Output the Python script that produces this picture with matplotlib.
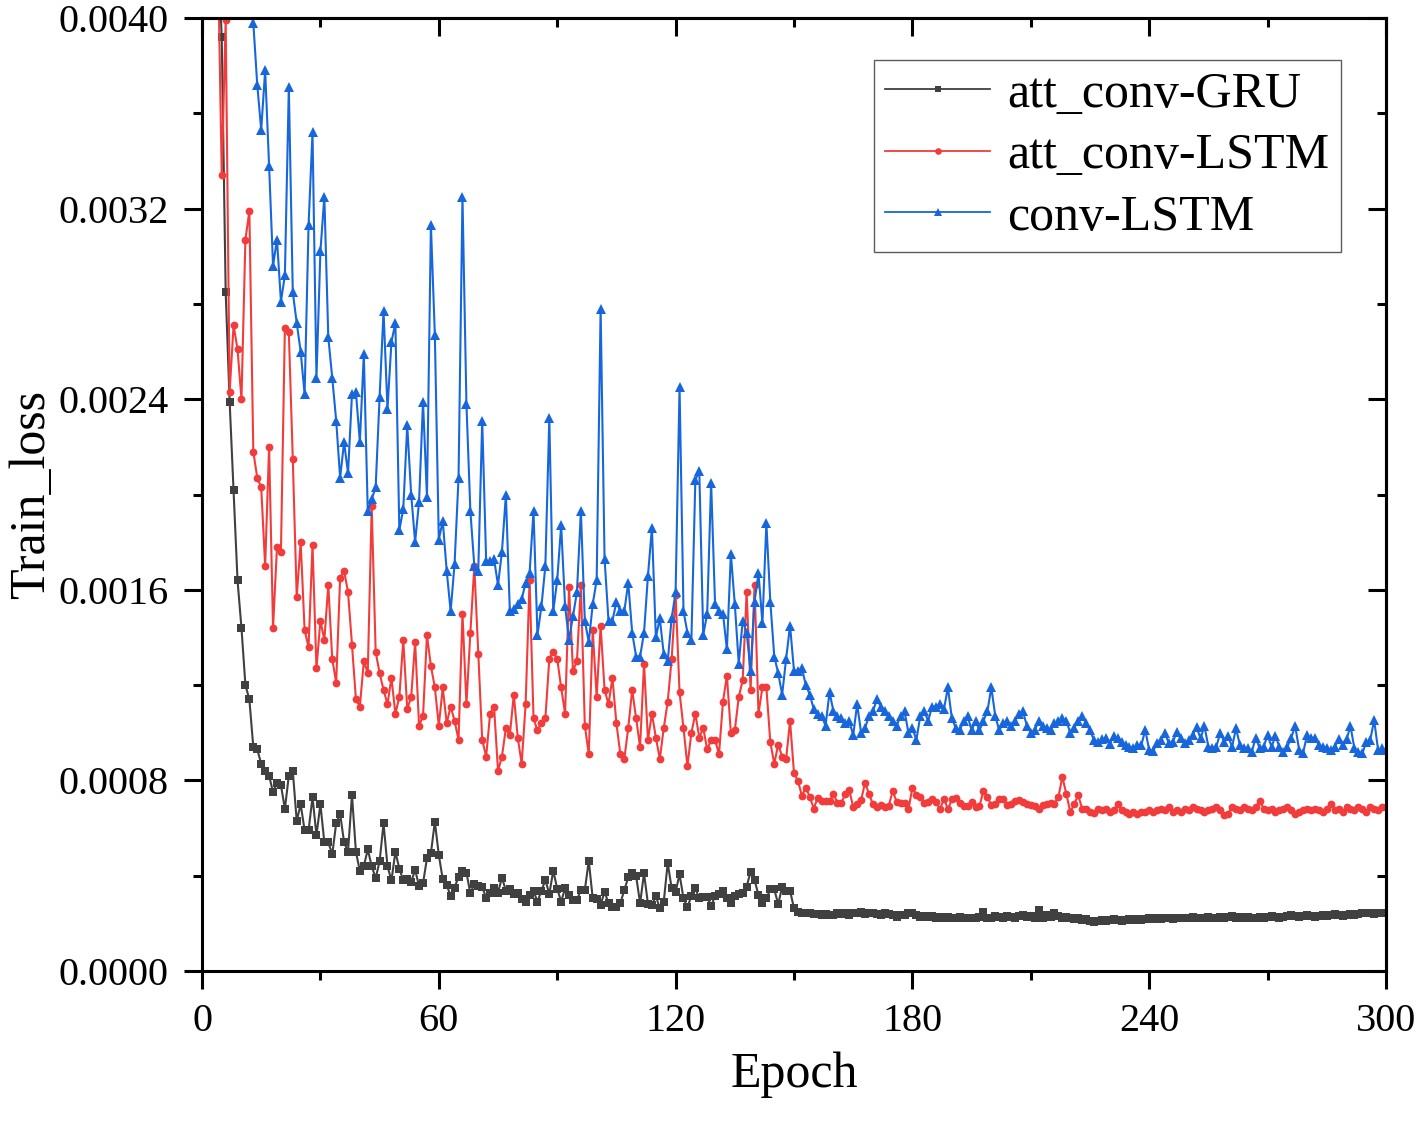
import matplotlib
matplotlib.use("Agg")
import matplotlib.pyplot as plt
from matplotlib.ticker import MultipleLocator, FormatStrFormatter
import numpy as np

# ---- data (values in units of 1e-4) ----
epochs = list(range(1, 301))

gru_e4 = [
    80, 62, 50, 43, 39.2, 28.5, 23.9, 20.2, 16.4, 14.4,
    12.0, 11.4, 9.4, 9.3, 8.7, 8.4, 8.2, 7.5, 7.9, 7.8,
    6.8, 8.2, 8.4, 6.3, 7.0, 5.9, 5.9, 7.3, 5.7, 7.0,
    5.4, 5.4, 4.9, 6.2, 6.6, 5.4, 5.0, 7.4, 5.0, 4.2,
    4.4, 5.1, 4.4, 3.9, 4.6, 6.2, 4.4, 3.8, 5.0, 4.3,
    3.80, 3.85, 3.75, 4.24, 3.57, 3.68, 4.73, 4.94, 6.27, 4.87,
    3.85, 3.61, 3.15, 3.50, 3.96, 4.21, 4.13, 3.26, 3.65, 3.57,
    3.54, 3.05, 3.29, 3.47, 3.29, 3.92, 3.37, 3.43, 3.22, 3.29,
    3.01, 2.91, 3.19, 3.36, 2.91, 3.36, 3.82, 3.23, 4.21, 3.46,
    2.91, 3.47, 3.19, 2.98, 2.98, 3.40, 3.40, 4.63, 3.05, 3.01,
    2.77, 3.33, 2.84, 2.70, 2.70, 2.84, 3.40, 3.93, 4.10, 3.99,
    2.84, 4.10, 2.81, 2.77, 3.15, 2.63, 2.91, 4.54, 3.47, 3.33,
    4.06, 3.05, 2.67, 3.15, 3.47, 3.05, 3.09, 3.12, 2.73, 3.15,
    3.22, 3.36, 3.05, 2.84, 3.15, 3.23, 3.29, 3.54, 4.17, 3.82,
    3.19, 2.84, 3.05, 3.43, 3.43, 2.80, 3.54, 3.36, 3.37, 2.63,
    2.49, 2.45, 2.42, 2.42, 2.38, 2.38, 2.35, 2.38, 2.35, 2.35,
    2.42, 2.38, 2.42, 2.35, 2.45, 2.42, 2.49, 2.38, 2.42, 2.45,
    2.38, 2.35, 2.42, 2.38, 2.35, 2.28, 2.35, 2.35, 2.42, 2.45,
    2.35, 2.28, 2.31, 2.28, 2.31, 2.24, 2.28, 2.21, 2.28, 2.24,
    2.21, 2.28, 2.21, 2.24, 2.21, 2.24, 2.28, 2.49, 2.24, 2.21,
    2.31, 2.28, 2.24, 2.31, 2.28, 2.24, 2.31, 2.35, 2.28, 2.31,
    2.24, 2.56, 2.24, 2.35, 2.28, 2.42, 2.31, 2.21, 2.28, 2.24,
    2.17, 2.21, 2.14, 2.17, 2.10, 2.07, 2.10, 2.14, 2.10, 2.14,
    2.17, 2.14, 2.10, 2.14, 2.17, 2.14, 2.17, 2.14, 2.17, 2.21,
    2.17, 2.21, 2.17, 2.24, 2.21, 2.17, 2.21, 2.24, 2.21, 2.24,
    2.28, 2.24, 2.21, 2.24, 2.28, 2.24, 2.21, 2.28, 2.24, 2.28,
    2.31, 2.24, 2.28, 2.24, 2.28, 2.21, 2.24, 2.28, 2.24, 2.28,
    2.31, 2.28, 2.24, 2.28, 2.31, 2.35, 2.31, 2.28, 2.31, 2.35,
    2.31, 2.28, 2.31, 2.35, 2.31, 2.35, 2.38, 2.35, 2.31, 2.35,
    2.38, 2.35, 2.38, 2.42, 2.45, 2.42, 2.38, 2.42, 2.45, 2.42,
]

att_lstm_e4 = [
    75, 60, 50, 43, 33.4, 39.9, 24.3, 27.1, 26.1, 24.0,
    30.7, 31.9, 21.8, 20.7, 20.3, 17.0, 22.0, 14.4, 17.8, 17.6,
    27.0, 26.8, 21.5, 15.7, 18.0, 14.3, 13.6, 17.9, 12.7, 14.7,
    13.9, 16.2, 13.1, 12.1, 16.5, 16.8, 15.9, 13.7, 11.4, 11.1,
    13.0, 12.5, 19.5, 13.4, 12.5, 11.8, 11.2, 12.3, 10.8, 11.5,
    13.9, 11.0, 11.5, 13.8, 10.3, 10.7, 14.1, 12.8, 11.9, 10.3,
    11.9, 10.4, 11.1, 10.5, 9.7, 15.0, 11.2, 14.2, 17.0, 13.3,
    9.7, 9.0, 10.8, 11.1, 8.4, 9.0, 10.2, 9.9, 11.6, 9.8,
    8.7, 11.2, 16.4, 10.6, 10.1, 10.4, 10.6, 13.1, 13.4, 13.1,
    11.9, 10.8, 16.1, 12.6, 13.0, 16.2, 10.3, 9.1, 14.3, 11.5,
    14.5, 11.8, 11.2, 12.3, 10.4, 9.1, 8.9, 10.2, 11.8, 10.6,
    9.4, 12.9, 9.7, 10.8, 9.8, 8.9, 10.2, 11.3, 13.1, 15.8,
    11.7, 10.2, 8.6, 10.0, 10.8, 9.8, 10.2, 9.3, 9.7, 9.7,
    9.1, 11.3, 12.4, 10.0, 10.1, 11.5, 12.2, 15.9, 11.8, 16.2,
    10.8, 11.9, 11.9, 9.6, 8.7, 9.5, 9.0, 8.9, 10.5, 8.3,
    7.98, 7.36, 7.69, 7.31, 6.82, 7.27, 7.15, 7.15, 7.13, 7.43,
    7.06, 7.06, 7.43, 7.59, 6.89, 7.00, 7.17, 7.90, 7.43, 7.00,
    6.89, 6.96, 6.89, 6.93, 7.55, 7.11, 7.06, 7.06, 6.78, 7.70,
    7.38, 7.31, 7.06, 7.11, 7.24, 7.11, 6.78, 7.24, 6.78, 7.20,
    7.27, 7.06, 6.92, 6.92, 7.11, 6.89, 6.92, 7.57, 7.31, 6.96,
    7.00, 7.24, 7.24, 6.96, 7.03, 7.15, 7.17, 7.11, 7.00, 6.96,
    6.92, 6.82, 6.96, 7.03, 7.06, 7.03, 7.31, 8.15, 7.43, 6.68,
    7.00, 7.38, 6.82, 6.78, 6.68, 6.64, 6.78, 6.75, 6.82, 6.68,
    6.75, 7.00, 6.75, 6.68, 6.61, 6.68, 6.61, 6.68, 6.68, 6.75,
    6.68, 6.75, 6.82, 6.75, 6.89, 6.68, 6.75, 6.68, 6.82, 6.75,
    6.89, 6.82, 6.75, 6.68, 6.75, 6.82, 6.89, 6.75, 6.55, 6.61,
    6.89, 6.82, 6.75, 6.89, 6.82, 6.75, 6.89, 7.15, 6.82, 6.75,
    6.82, 6.68, 6.75, 6.82, 6.89, 6.75, 6.61, 6.68, 6.75, 6.82,
    6.75, 6.82, 6.75, 6.68, 6.82, 7.03, 6.75, 6.82, 6.68, 6.89,
    6.82, 6.75, 6.89, 6.82, 6.68, 6.89, 6.82, 6.75, 6.89, 6.89,
]

conv_lstm_e4 = [
    62, 57, 53, 50, 48, 46.5, 45, 44, 43, 42,
    41.5, 40.8, 39.8, 37.2, 35.3, 37.8, 33.8, 29.6, 30.7, 28.1,
    29.2, 37.1, 28.5, 27.2, 26.0, 24.2, 31.3, 35.2, 24.9, 30.2,
    32.5, 26.6, 24.9, 23.1, 20.7, 22.2, 20.9, 24.2, 24.3, 22.2,
    25.9, 19.3, 19.8, 20.3, 24.1, 27.7, 23.6, 26.4, 27.2, 18.5,
    19.4, 22.9, 20.0, 18.0, 19.7, 23.9, 19.9, 31.3, 26.7, 18.1,
    18.9, 16.8, 15.1, 17.1, 20.7, 32.5, 23.8, 19.3, 17.0, 16.8,
    23.1, 17.2, 17.2, 17.3, 16.2, 17.6, 20.0, 15.1, 15.2, 15.4,
    15.6, 16.3, 16.7, 19.3, 14.1, 15.3, 17.0, 23.2, 15.1, 16.4,
    18.7, 15.3, 13.9, 14.9, 15.9, 19.3, 14.7, 13.8, 15.4, 16.4,
    27.8, 17.3, 14.7, 14.7, 15.5, 15.1, 15.1, 16.3, 14.2, 13.2,
    13.2, 14.2, 16.6, 18.6, 14.0, 14.8, 13.3, 13.0, 14.8, 15.9,
    24.5, 15.1, 14.2, 13.9, 20.6, 21.0, 14.1, 15.0, 20.5, 15.4,
    15.1, 15.0, 13.5, 17.5, 15.4, 12.9, 14.7, 14.2, 12.6, 15.5,
    16.7, 14.6, 18.8, 15.5, 13.2, 12.5, 11.6, 13.1, 14.5, 12.6,
    12.6, 12.7, 12.0, 11.6, 11.0, 10.8, 10.7, 10.3, 11.7, 10.9,
    10.7, 10.6, 10.4, 10.5, 9.9, 11.2, 10.0, 10.2, 10.7, 10.9,
    11.4, 11.1, 10.9, 10.7, 10.5, 10.3, 10.7, 10.9, 10.0, 10.2,
    9.7, 10.7, 10.9, 10.5, 11.1, 11.1, 11.2, 11.0, 11.9, 10.6,
    10.2, 10.1, 10.5, 10.7, 10.1, 10.5, 10.1, 10.5, 10.9, 11.9,
    10.7, 10.1, 10.4, 10.5, 10.3, 10.5, 10.8, 10.9, 10.3, 10.0,
    10.1, 10.5, 10.3, 10.2, 10.1, 10.4, 10.5, 10.6, 10.5, 10.0,
    10.2, 10.5, 10.7, 10.4, 10.1, 9.7, 9.6, 9.72, 9.76, 9.52,
    9.86, 9.76, 9.62, 9.48, 9.41, 9.34, 9.48, 9.48, 10.11, 9.27,
    9.24, 9.55, 9.69, 9.97, 9.55, 9.62, 10.04, 9.76, 9.58, 9.69,
    9.90, 10.25, 9.76, 10.28, 9.41, 9.38, 9.41, 10.00, 9.62, 9.86,
    9.41, 10.18, 9.48, 9.38, 9.34, 9.20, 9.80, 9.34, 9.41, 9.90,
    9.41, 9.86, 9.41, 9.20, 9.41, 9.80, 10.28, 9.27, 9.16, 9.90,
    9.76, 9.80, 9.48, 9.41, 9.38, 9.27, 9.41, 9.72, 9.48, 9.72,
    10.28, 9.34, 9.20, 9.13, 9.62, 9.69, 10.53, 9.27, 9.34, 9.27,
]

series_labels = ["att_conv-GRU", "att_conv-LSTM", "conv-LSTM"]
x_ticks = [0, 60, 120, 180, 240, 300]
y_ticks = [0.0, 0.0008, 0.0016, 0.0024, 0.0032, 0.0040]

SCALE = 1e-4
gru = np.array(gru_e4) * SCALE
att_lstm = np.array(att_lstm_e4) * SCALE
conv_lstm = np.array(conv_lstm_e4) * SCALE

plt.rcParams["font.family"] = ["Liberation Serif", "DejaVu Serif"]

W, H = 1418, 1125
fig = plt.figure(figsize=(W / 100, H / 100), dpi=100)
ax = fig.add_axes([202 / W, 1 - 971 / H, 1184 / W, 953 / H])

c_black = "#404040"
c_red = "#f23c3c"
c_blue = "#1766db"

ax.plot(epochs, gru, color=c_black, lw=1.5, marker="s", ms=5.2,
        markeredgewidth=0, label=series_labels[0])
ax.plot(epochs, att_lstm, color=c_red, lw=1.5, marker="o", ms=5.6,
        markeredgewidth=0, label=series_labels[1])
ax.plot(epochs, conv_lstm, color=c_blue, lw=1.5, marker="^", ms=7.0,
        markeredgewidth=0, label=series_labels[2])

ax.set_xlim(0, 300)
ax.set_ylim(0, 0.004)
ax.set_xticks(x_ticks)
ax.set_yticks(y_ticks)
ax.xaxis.set_minor_locator(MultipleLocator(30))
ax.yaxis.set_minor_locator(MultipleLocator(0.0004))
ax.yaxis.set_major_formatter(FormatStrFormatter("%.4f"))

for s in ax.spines.values():
    s.set_linewidth(2.2)

ax.tick_params(axis="both", which="major", direction="out", length=13,
               width=2.2, labelsize=29, pad=10)
ax.tick_params(axis="both", which="minor", direction="out", length=6.5,
               width=2.2)
ax.tick_params(axis="y", which="major", pad=11)

# inward ticks on top and right
secx = ax.secondary_xaxis("top")
secx.set_xticks(x_ticks)
secx.xaxis.set_minor_locator(MultipleLocator(30))
secx.tick_params(which="major", direction="in", length=13, width=2.2,
                 labeltop=False)
secx.tick_params(which="minor", direction="in", length=6.5, width=2.2)
secx.spines["top"].set_linewidth(2.2)

secy = ax.secondary_yaxis("right")
secy.set_yticks(y_ticks)
secy.yaxis.set_minor_locator(MultipleLocator(0.0004))
secy.tick_params(which="major", direction="in", length=13, width=2.2,
                 labelright=False)
secy.tick_params(which="minor", direction="in", length=6.5, width=2.2)
secy.spines["right"].set_linewidth(2.2)

ax.set_xlabel("Epoch", fontsize=36, labelpad=8)
ax.set_ylabel("Train_loss", fontsize=36, labelpad=2)

leg = ax.legend(loc="upper right", bbox_to_anchor=(0.9617, 0.9559),
                fontsize=36, frameon=True, fancybox=False, borderaxespad=0,
                handlelength=2.1, handletextpad=0.35, labelspacing=0.3,
                borderpad=0.22, markerscale=0.85)
leg.get_frame().set_edgecolor("#333333")
leg.get_frame().set_linewidth(1.0)
for line in leg.get_lines():
    line.set_linewidth(1.3)

fig.savefig("out.png", dpi=100)
